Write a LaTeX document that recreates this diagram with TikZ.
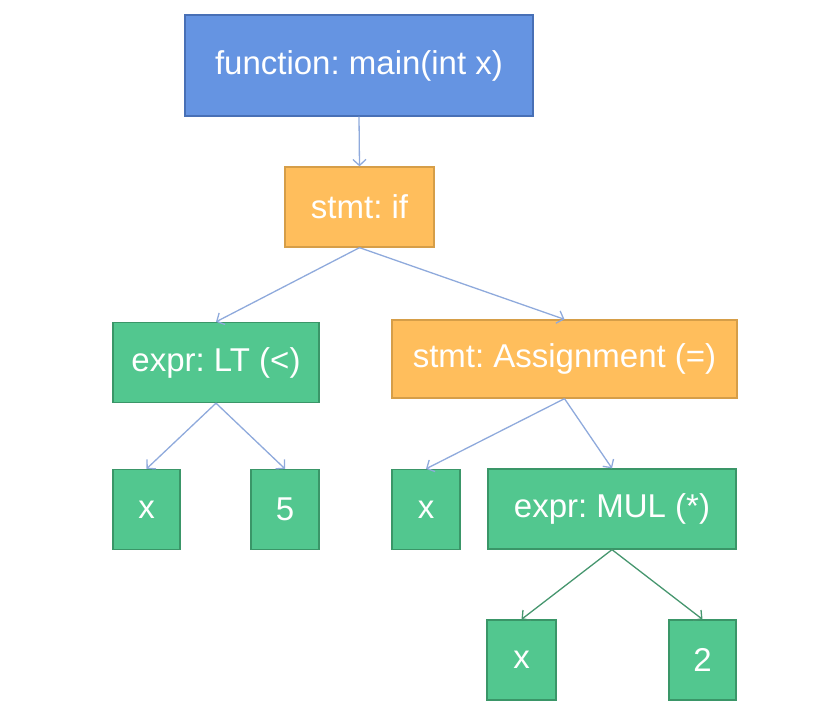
\documentclass[tikz,border=0pt]{standalone}
\usepackage{fontspec}
\setmainfont{Liberation Sans}
\frenchspacing
\usetikzlibrary{arrows.meta}
\definecolor{astblue}{RGB}{101,148,226}
\definecolor{astblueline}{RGB}{72,112,182}
\definecolor{astorange}{RGB}{255,190,92}
\definecolor{astorangeline}{RGB}{214,158,72}
\definecolor{astgreen}{RGB}{82,199,143}
\definecolor{astgreenline}{RGB}{58,150,104}
\definecolor{astedge}{RGB}{143,170,220}
\definecolor{astedgegreen}{RGB}{70,150,110}

\begin{document}
\begin{tikzpicture}[x=1pt, y=-1pt,
  astnode/.style={draw, line width=1.3pt, inner sep=0pt, text=white,
    font=\fontsize{33}{40}\selectfont, minimum height=80pt},
  fnnode/.style={astnode, fill=astblue, draw=astblueline},
  stmtnode/.style={astnode, fill=astorange, draw=astorangeline},
  exprnode/.style={astnode, fill=astgreen, draw=astgreenline},
  edge/.style={draw=astedge, line width=1.3pt, -{Straight Barb[length=6pt,width=13pt]}},
  edgegreen/.style={edge, draw=astedgegreen}]
\useasboundingbox (0,0) rectangle (818,723);
% Root
\node[fnnode, minimum width=348pt, minimum height=101pt] (fn) at (359,65.5) {function: main(int x)};
% Statements
\node[stmtnode, minimum width=149pt] (if) at (359.5,207) {stmt: if};
\node[stmtnode, minimum width=345pt, minimum height=78pt] (asg) at (564.5,359) {stmt: Assignment (=)};
% Expressions
\node[exprnode, minimum width=206pt] (lt) at (216,362.5) {expr: LT (<)};
\node[exprnode, minimum width=248pt] (mul) at (612,509) {expr: MUL (*)};
% Leaves
\node[exprnode, minimum width=67pt] (x1) at (146.5,509.5) {x};
\node[exprnode, minimum width=68pt] (n5) at (285,509.5) {5};
\node[exprnode, minimum width=68pt] (x2) at (426,509.5) {x};
\node[exprnode, minimum width=69pt] (x3) at (521.5,660) {x};
\node[exprnode, minimum width=67pt] (n2) at (702.5,660) {2};
% Connections
\foreach \p/\c in {fn/if, if/lt, if/asg, lt/x1, lt/n5, asg/x2, asg/mul} {
  \draw[edge] (\p.south) -- (\c.north);
}
\foreach \c in {x3,n2} {
  \draw[edgegreen] (mul.south) -- (\c.north);
}
\end{tikzpicture}
\end{document}
